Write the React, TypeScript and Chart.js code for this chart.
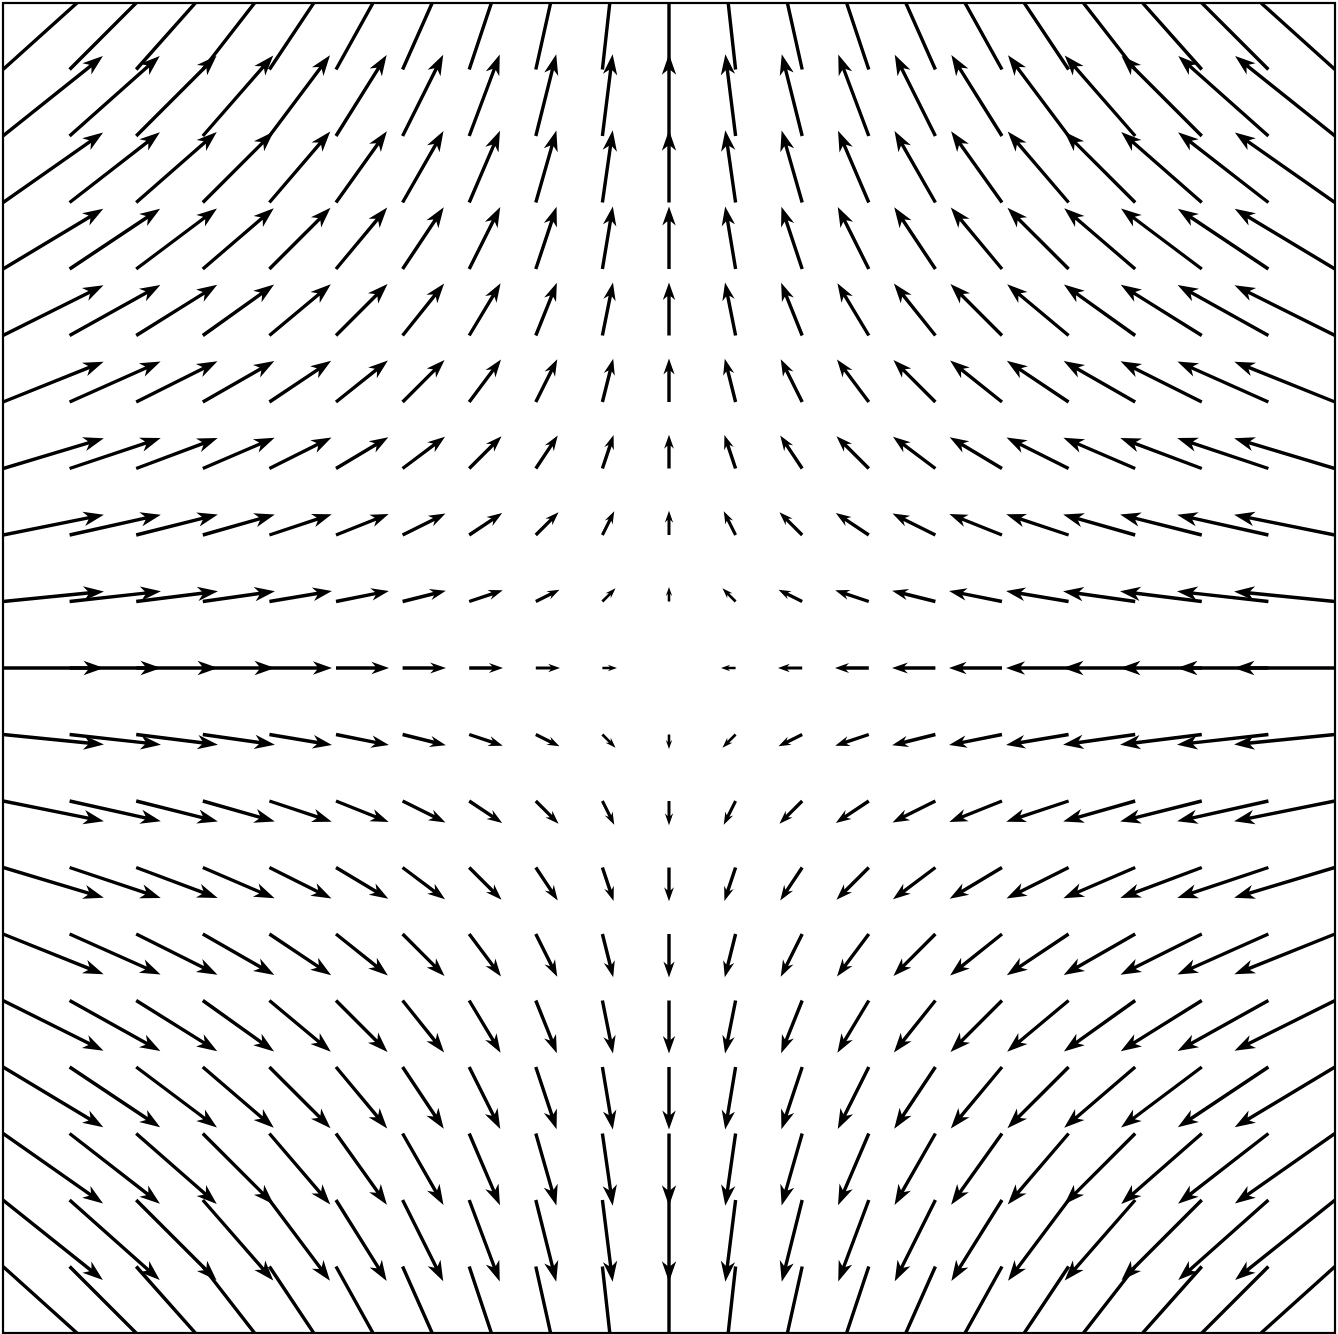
import React, { useEffect, useRef } from "react";
import { Chart, registerables } from "chart.js";

Chart.register(...registerables);

// Grid positions (data units)
const gridX = [-10, -9, -8, -7, -6, -5, -4, -3, -2, -1, 0, 1, 2, 3, 4, 5, 6, 7, 8, 9, 10];
const gridY = [-10, -9, -8, -7, -6, -5, -4, -3, -2, -1, 0, 1, 2, 3, 4, 5, 6, 7, 8, 9, 10];
// Horizontal component for each column (same index as gridX)
const uByColumn = [10, 9, 8, 7, 6, 5, 4, 3, 2, 1, 0, -1, -2, -3, -4, -5, -6, -7, -8, -9, -10];
// Vertical component for each row (same index as gridY)
const vByRow = [-10, -9, -8, -7, -6, -5, -4, -3, -2, -1, 0, 1, 2, 3, 4, 5, 6, 7, 8, 9, 10];

// Arrow styling (pixels)
const PX_PER_UNIT = 9.6;
const TIP_EXTRA = 5;
const SHAFT_W = 3.4;
const HEAD_HALF_W = 7.2;
const HEAD_LEN = 20.5;
const HEAD_AXIS_LEN = 16;

const quiverPlugin = {
  id: "quiver",
  afterDatasetsDraw(chart: any) {
    const { ctx, chartArea, scales } = chart;
    const xs = scales.x;
    const ys = scales.y;
    ctx.save();
    ctx.beginPath();
    ctx.rect(chartArea.left, chartArea.top, chartArea.right - chartArea.left, chartArea.bottom - chartArea.top);
    ctx.clip();
    ctx.fillStyle = "#000";
    for (let c = 0; c < gridX.length; c++) {
      for (let r = 0; r < gridY.length; r++) {
        const u = uByColumn[c];
        const v = vByRow[r];
        const mag = Math.hypot(u, v);
        if (mag === 0) continue;
        const px = xs.getPixelForValue(gridX[c]);
        const py = ys.getPixelForValue(gridY[r]);
        const L = mag * PX_PER_UNIT + TIP_EXTRA;
        const s = Math.min(1, Math.sqrt(L / 72));
        const hl = HEAD_LEN * s;
        const hal = HEAD_AXIS_LEN * s;
        const hw = HEAD_HALF_W * s;
        const w = (SHAFT_W * Math.min(1, s + 0.3)) / 2;
        const ang = Math.atan2(-v, u);
        ctx.save();
        ctx.translate(px, py);
        ctx.rotate(ang);
        ctx.beginPath();
        ctx.moveTo(0, w);
        ctx.lineTo(L - hal, w);
        ctx.lineTo(L - hl, hw);
        ctx.lineTo(L, 0);
        ctx.lineTo(L - hl, -hw);
        ctx.lineTo(L - hal, -w);
        ctx.lineTo(0, -w);
        ctx.closePath();
        ctx.fill();
        ctx.restore();
      }
    }
    ctx.restore();
    // frame
    ctx.save();
    ctx.strokeStyle = "#000";
    ctx.lineWidth = 2.2;
    ctx.strokeRect(chartArea.left, chartArea.top, chartArea.right - chartArea.left, chartArea.bottom - chartArea.top);
    ctx.restore();
  },
};

export default function App() {
  const canvasRef = useRef<HTMLCanvasElement | null>(null);
  useEffect(() => {
    if (!canvasRef.current) return;
    const points: { x: number; y: number }[] = [];
    gridX.forEach((x) => gridY.forEach((y) => points.push({ x, y })));
    const chart = new Chart(canvasRef.current, {
      type: "scatter",
      data: {
        datasets: [
          {
            data: points,
            pointRadius: 0,
            pointHoverRadius: 0,
          },
        ],
      },
      options: {
        animation: false,
        responsive: false,
        maintainAspectRatio: false,
        events: [],
        layout: { padding: { left: 3, right: 3, top: 3, bottom: 1 } },
        plugins: { legend: { display: false }, tooltip: { enabled: false } },
        scales: {
          x: { type: "linear", min: -10, max: 10, display: false },
          y: { type: "linear", min: -10, max: 10, display: false },
        },
      },
      plugins: [quiverPlugin],
    });
    return () => chart.destroy();
  }, []);
  return (
    <div style={{ position: "fixed", left: 0, top: 0, width: 1338, height: 1334, background: "#fff" }}>
      <canvas ref={canvasRef} width={1338} height={1334} style={{ display: "block" }} />
    </div>
  );
}
